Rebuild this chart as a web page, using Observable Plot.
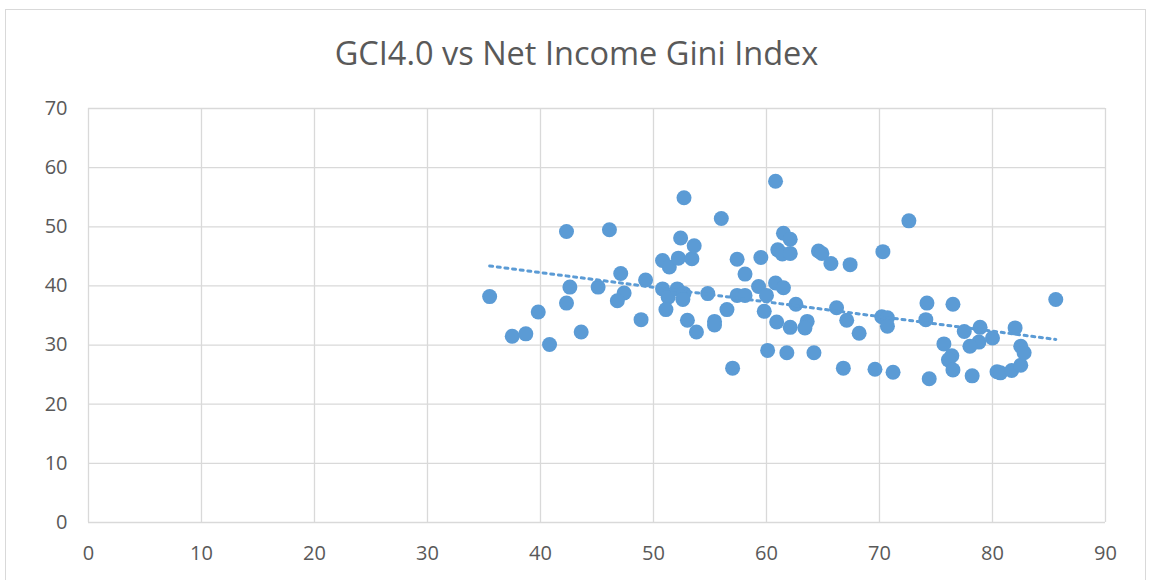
<!DOCTYPE html>
<html>
<head>
<meta charset="utf-8">
<script src="https://cdn.jsdelivr.net/npm/d3@7"></script>
<script src="https://cdn.jsdelivr.net/npm/@observablehq/plot@0.6"></script>
<style>
  html, body { margin: 0; padding: 0; background: #fff; }
  #wrap { position: relative; width: 1149px; height: 580px; overflow: hidden; background: #fff; }
  #frame { position: absolute; left: 5px; top: 9px; width: 1141px; height: 640px; border: 1px solid #d9d9d9; box-sizing: border-box; }
  #title { position: absolute; left: 0; width: 1153px; top: 33px; text-align: center; font-family: "Open Sans", sans-serif; font-size: 32.5px; color: #595959; line-height: 40px; white-space: nowrap; }
  #chart { position: absolute; left: 0; top: 90px; }
</style>
</head>
<body>
<div id="wrap">
  <div id="frame"></div>
  <div id="title">GCI4.0 vs Net Income Gini Index</div>
  <div id="chart"></div>
</div>
<script>
// GCI 4.0 score (x) and net income Gini index (y)
const gciScore = [
  35.5, 37.5, 38.7, 39.8, 40.8, 42.3, 46.1, 42.6, 42.3, 45.1,
  43.6, 47.1, 47.4, 46.8, 49.3, 48.9, 52.7, 52.4, 50.8, 51.4,
  52.2, 53.4, 53.6, 50.8, 51.3, 52.1, 52.7, 52.6, 51.1, 53.0,
  53.8, 60.8, 56.0, 72.6, 61.5, 62.1, 61.0, 61.4, 62.1, 64.6,
  64.9, 65.7, 67.4, 70.3, 57.4, 59.5, 58.1, 59.3, 60.8, 61.5,
  60.0, 57.4, 58.1, 54.8, 62.6, 66.2, 56.5, 59.8, 70.2, 70.7,
  70.7, 67.1, 68.2, 63.6, 63.4, 60.9, 62.1, 55.4, 55.4, 60.1,
  61.8, 64.2, 57.0, 66.8, 69.6, 71.2, 74.4, 74.2, 74.1, 85.6,
  76.5, 77.5, 78.9, 82.0, 80.0, 78.8, 78.0, 75.7, 76.4, 76.1,
  76.5, 78.2, 80.4, 80.7, 81.7, 82.5, 82.5, 82.8
];
const giniIndex = [
  38.2, 31.5, 31.9, 35.6, 30.1, 49.2, 49.5, 39.8, 37.1, 39.8,
  32.2, 42.1, 38.8, 37.5, 41.0, 34.3, 54.9, 48.1, 44.3, 43.2,
  44.7, 44.6, 46.8, 39.5, 38.1, 39.5, 38.7, 37.7, 36.0, 34.2,
  32.2, 57.7, 51.4, 51.0, 48.9, 47.9, 46.1, 45.4, 45.5, 45.9,
  45.5, 43.8, 43.6, 45.8, 44.5, 44.8, 42.0, 39.9, 40.5, 39.7,
  38.4, 38.4, 38.4, 38.7, 36.9, 36.3, 36.0, 35.7, 34.8, 34.6,
  33.2, 34.2, 32.0, 34.0, 32.9, 33.9, 33.0, 34.0, 33.4, 29.1,
  28.7, 28.7, 26.1, 26.1, 25.9, 25.4, 24.3, 37.1, 34.3, 37.7,
  36.9, 32.3, 33.0, 32.9, 31.2, 30.5, 29.8, 30.2, 28.2, 27.5,
  25.8, 24.8, 25.5, 25.3, 25.7, 26.6, 29.8, 28.7
];
const xTicks = [0, 10, 20, 30, 40, 50, 60, 70, 80, 90];
const yTicks = [0, 10, 20, 30, 40, 50, 60, 70];

const points = gciScore.map((x, i) => ({x, y: giniIndex[i]}));
const blue = "#5B9BD5";
const grid = "#d9d9d9";

const chart = Plot.plot({
  width: 1149,
  height: 490,
  marginTop: 18,
  marginBottom: 58,
  marginLeft: 88,
  marginRight: 44,
  style: {color: "#595959", fontFamily: "'Open Sans', sans-serif", fontSize: "20px", background: "transparent", overflow: "visible"},
  x: {domain: [0, 90], nice: false},
  y: {domain: [0, 70], nice: false},
  marks: [
    Plot.gridX(xTicks, {stroke: grid, strokeOpacity: 1, strokeWidth: 1.3}),
    Plot.gridY(yTicks, {stroke: grid, strokeOpacity: 1, strokeWidth: 1.3}),
    Plot.axisX({ticks: xTicks, tickSize: 0, tickPadding: 23, label: null, fontSize: 20}),
    Plot.axisY({ticks: yTicks, tickSize: 0, tickPadding: 21, label: null, fontSize: 20}),
    Plot.dot(points, {x: "x", y: "y", r: 7.5, fill: blue, stroke: null}),
    Plot.linearRegressionY(points, {x: "x", y: "y", stroke: blue, strokeWidth: 3, strokeDasharray: "3,4.7", ci: 0})
  ]
});
document.getElementById("chart").appendChild(chart);
</script>
</body>
</html>
